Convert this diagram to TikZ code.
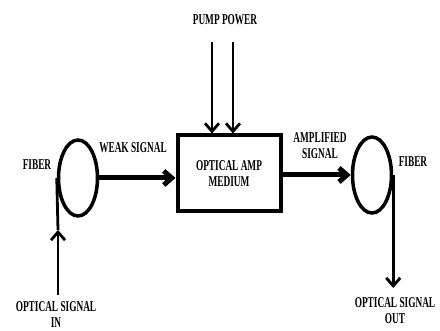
\documentclass[tikz,border=0pt]{standalone}
\usepackage{fontspec}
\setmainfont{Liberation Serif}[FakeStretch=0.62]
\usetikzlibrary{arrows.meta,shapes.geometric}

\tikzset{
  >={Straight Barb[length=8pt,width=14pt]},   % open arrow tips
  lbl/.style={font=\bfseries\fontsize{15}{16}\selectfont, align=center, inner sep=0pt},
  fiber/.style={draw, ellipse, line width=3.5pt, minimum width=39pt, minimum height=76pt, inner sep=0pt},
  thin/.style={line width=2.8pt},
  thick/.style={line width=5pt}
}

\begin{document}
\begin{tikzpicture}[x=1pt,y=-1pt]
\useasboundingbox (0,0) rectangle (440,331);

% fiber loops and amplifier
\node[fiber] (fiberin) at (78,178) {};
\node[fiber] (fiberout) at (372,175) {};
\node[draw, line width=4pt, minimum width=103pt, minimum height=76pt, lbl] (amp) at (229,173.5)
    {OPTICAL AMP\\MEDIUM};

% labels
\node[lbl] (pump) at (225,20) {PUMP POWER};
\node[lbl] (fiberinlbl) at (37,165) {FIBER};
\node[lbl] (fiberoutlbl) at (413,162) {FIBER};
\node[lbl] (weak) at (133,148) {WEAK SIGNAL};
\node[lbl] (ampl) at (320,146) {AMPLIFIED\\SIGNAL};
\node[lbl, anchor=north] (sigin) at (56,301) {OPTICAL SIGNAL\\IN};
\node[lbl, anchor=north] (sigout) at (395,297) {OPTICAL SIGNAL\\OUT};

% pump arrows
\coordinate (pumpa) at (212,42);
\coordinate (pumpb) at (233,42);
\draw[->, thin] (pumpa) -- (pumpa |- amp.north);
\draw[->, thin] (pumpb) -- (pumpb |- amp.north);

% signal path
\coordinate (inbottom) at (58,295);
\coordinate (inmid) at (58,230);
\draw[->, thin] (inbottom) -- (inmid);
\draw[thin] (inmid) -- (fiberin.west);
\draw[->, thick] (fiberin.east) -- (fiberin.east -| amp.west);
\draw[->, thick] (amp.east |- fiberout.west) -- (fiberout.west);
\coordinate (outend) at (391,288);
\draw[->, thin] (fiberout.east) -- (fiberout.east |- outend);

\end{tikzpicture}
\end{document}
